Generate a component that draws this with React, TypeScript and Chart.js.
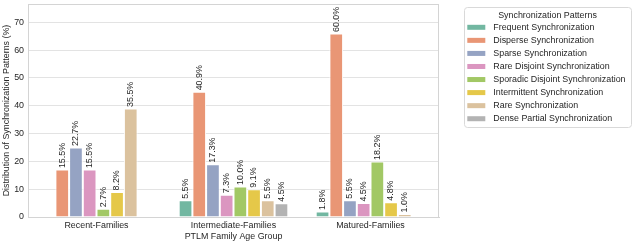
import React, { useEffect, useRef } from "react";
import { Chart, registerables } from "chart.js";

Chart.register(...registerables);

const categories = ["Recent-Families", "Intermediate-Families", "Matured-Families"];

const seriesNames = [
  "Frequent Synchronization",
  "Disperse Synchronization",
  "Sparse Synchronization",
  "Rare Disjoint Synchronization",
  "Sporadic Disjoint Synchronization",
  "Intermittent Synchronization",
  "Rare Synchronization",
  "Dense Partial Synchronization",
];

const seriesColors = [
  "#72b7a1",
  "#e99675",
  "#95a3c3",
  "#db96c0",
  "#a2c865",
  "#e5c849",
  "#dbc29e",
  "#b3b3b3",
];

// bar heights (per series, across categories)
const frequentValues = [null, 6.0, 2.0];
const disperseValues = [17.05, 45.0, 66.0];
const sparseValues = [25.0, 19.0, 6.05];
const rareDisjointValues = [17.05, 8.0, 5.0];
const sporadicDisjointValues = [3.0, 11.0, 20.0];
const intermittentValues = [9.0, 10.0, 5.3];
const rareValues = [39.05, 6.05, 1.1];
const densePartialValues = [null, 4.95, null];

// printed labels (per series, across categories)
const frequentLabels = ["", "5.5%", "1.8%"];
const disperseLabels = ["15.5%", "40.9%", "60.0%"];
const sparseLabels = ["22.7%", "17.3%", "5.5%"];
const rareDisjointLabels = ["15.5%", "7.3%", "4.5%"];
const sporadicDisjointLabels = ["2.7%", "10.0%", "18.2%"];
const intermittentLabels = ["8.2%", "9.1%", "4.8%"];
const rareLabels = ["35.5%", "5.5%", "1.0%"];
const densePartialLabels = ["", "4.5%", ""];

const yTicks = [0, 10, 20, 30, 40, 50, 60, 70];
const yMax = 76.6;

const allValues = [
  frequentValues,
  disperseValues,
  sparseValues,
  rareDisjointValues,
  sporadicDisjointValues,
  intermittentValues,
  rareValues,
  densePartialValues,
];
const allLabels = [
  frequentLabels,
  disperseLabels,
  sparseLabels,
  rareDisjointLabels,
  sporadicDisjointLabels,
  intermittentLabels,
  rareLabels,
  densePartialLabels,
];

const FONT = "'Liberation Sans', Arial, sans-serif";
const FS = 8.9;
const TEXT = "#262626";

const framePlugin = {
  id: "frame",
  afterDraw(chart: any) {
    const { ctx, chartArea } = chart;
    ctx.save();
    ctx.strokeStyle = "#d4d4d4";
    ctx.lineWidth = 1;
    ctx.strokeRect(
      Math.round(chartArea.left) + 0.5,
      Math.round(chartArea.top) + 0.5,
      Math.round(chartArea.right - chartArea.left) - 1,
      Math.round(chartArea.bottom - chartArea.top)
    );
    ctx.restore();
  },
};

const barLabelPlugin = {
  id: "barLabels",
  afterDatasetsDraw(chart: any) {
    const { ctx } = chart;
    ctx.save();
    ctx.font = `${FS}px ${FONT}`;
    ctx.fillStyle = TEXT;
    ctx.textAlign = "left";
    ctx.textBaseline = "middle";
    chart.data.datasets.forEach((ds: any, di: number) => {
      const meta = chart.getDatasetMeta(di);
      meta.data.forEach((el: any, i: number) => {
        const txt = allLabels[di][i];
        if (!txt || ds.data[i] == null) return;
        ctx.save();
        ctx.translate(el.x, el.y - 1.5);
        ctx.rotate(-Math.PI / 2);
        ctx.fillText(txt, 0, 0);
        ctx.restore();
      });
    });
    ctx.restore();
  },
};

const legendPlugin = {
  id: "customLegend",
  afterDraw(chart: any) {
    const { ctx } = chart;
    ctx.save();
    const x = 464.5;
    const y = 7.5;
    const w = 167;
    const h = 120;
    ctx.beginPath();
    if ((ctx as any).roundRect) (ctx as any).roundRect(x, y, w, h, 3);
    else ctx.rect(x, y, w, h);
    ctx.fillStyle = "#ffffff";
    ctx.fill();
    ctx.strokeStyle = "#d9d9d9";
    ctx.lineWidth = 1;
    ctx.stroke();
    ctx.font = `${FS}px ${FONT}`;
    ctx.fillStyle = TEXT;
    ctx.textBaseline = "middle";
    ctx.textAlign = "center";
    ctx.fillText("Synchronization Patterns", 547.5, 15.8);
    ctx.textAlign = "left";
    chart.data.datasets.forEach((ds: any, i: number) => {
      const cy = 27.3 + i * 13.06;
      ctx.fillStyle = ds.backgroundColor;
      ctx.fillRect(467.3, cy - 2.5, 18, 5);
      ctx.fillStyle = TEXT;
      ctx.fillText(ds.label, 493.3, cy);
    });
    ctx.restore();
  },
};

export default function App() {
  const ref = useRef<HTMLCanvasElement | null>(null);
  useEffect(() => {
    if (!ref.current) return;
    const chart = new Chart(ref.current, {
      type: "bar",
      data: {
        labels: categories,
        datasets: seriesNames.map((name, i) => ({
          label: name,
          data: allValues[i] as any,
          backgroundColor: seriesColors[i],
          borderColor: "#ffffff",
          borderWidth: 1,
          borderSkipped: "bottom",
          categoryPercentage: 0.8,
          barPercentage: 1.0,
        })),
      },
      options: {
        responsive: false,
        animation: false,
        layout: { padding: { top: 4, right: 195, left: 0, bottom: 0 } },
        plugins: {
          legend: { display: false },
          tooltip: { enabled: false },
        },
        scales: {
          x: {
            grid: { display: false, drawTicks: false },
            border: { display: true, color: "#d4d4d4" },
            ticks: {
              color: TEXT,
              font: { family: FONT, size: FS },
              padding: 3,
              maxRotation: 0,
            },
            title: {
              display: true,
              text: "PTLM Family Age Group",
              color: TEXT,
              font: { family: FONT, size: FS },
              padding: { top: 0, bottom: 2.3 },
            },
            afterFit: (s: any) => {
              s.height = 27;
              s.paddingLeft = 0;
              s.paddingRight = 0;
            },
          },
          y: {
            min: 0,
            max: yMax,
            grid: { color: "#e3e3e3", drawTicks: false },
            border: { display: true, color: "#d4d4d4" },
            afterBuildTicks: (s: any) => {
              s.ticks = yTicks.map((v) => ({ value: v }));
            },
            ticks: {
              color: TEXT,
              font: { family: FONT, size: FS },
              padding: 4,
            },
            title: {
              display: true,
              text: "Distribution of Synchronization Patterns (%)",
              color: TEXT,
              font: { family: FONT, size: FS },
              padding: { top: 1.6, bottom: 0 },
            },
            afterFit: (s: any) => {
              s.width = 28;
              s.paddingTop = 0;
              s.paddingBottom = 0;
            },
          },
        },
      },
      plugins: [framePlugin, barLabelPlugin, legendPlugin],
    });
    return () => chart.destroy();
  }, []);
  return (
    <div style={{ position: "absolute", left: 0, top: 0, width: 634, height: 244, background: "#fff" }}>
      <canvas ref={ref} width={634} height={244} style={{ display: "block" }} />
    </div>
  );
}
